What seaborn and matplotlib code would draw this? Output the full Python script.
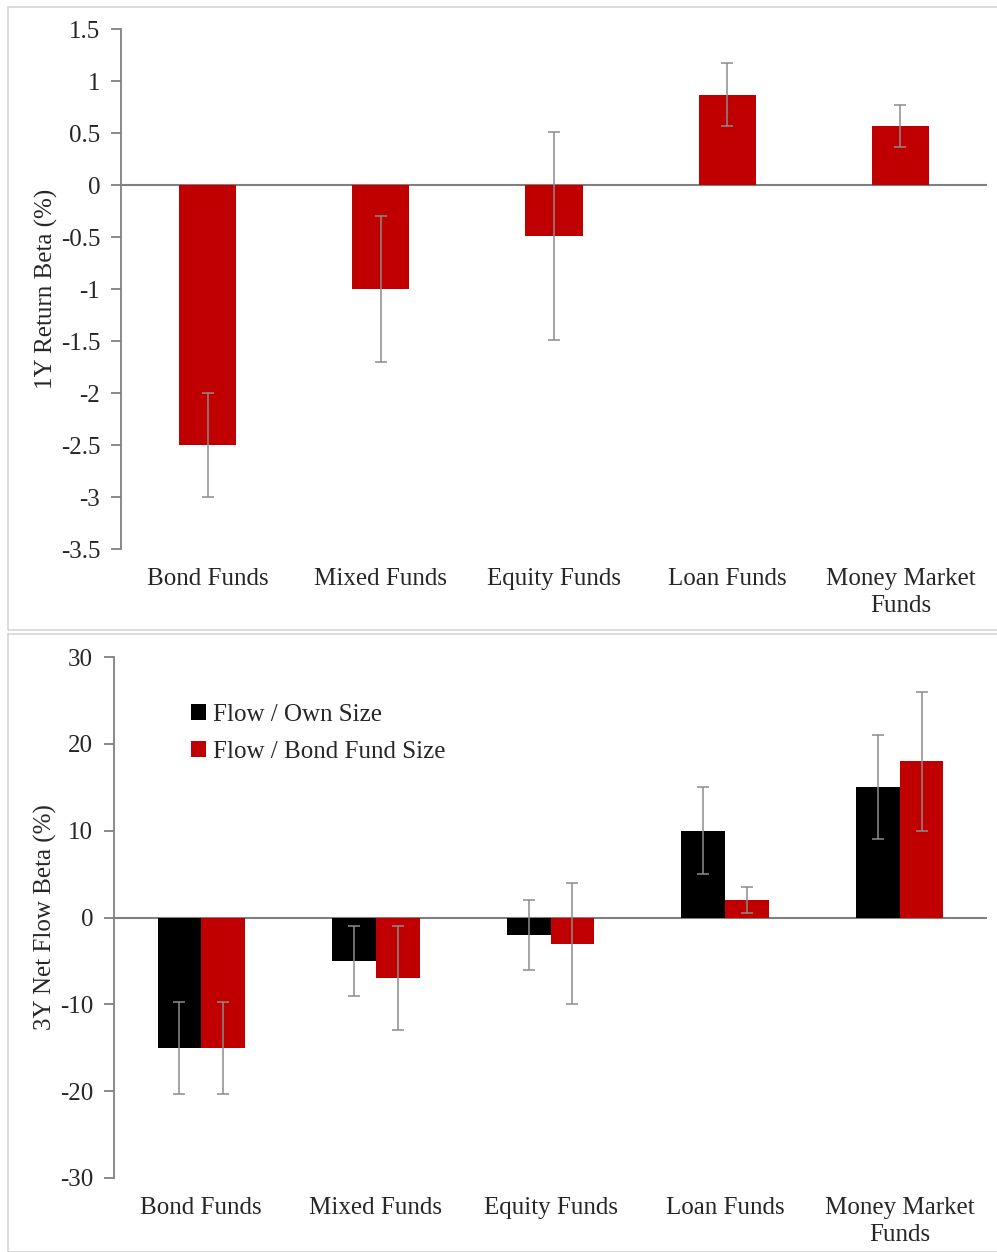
import matplotlib
matplotlib.use('Agg')
import matplotlib.pyplot as plt
from matplotlib.patches import Rectangle
from matplotlib.ticker import FuncFormatter, MultipleLocator
import seaborn as sns
import pandas as pd

# Data
categories = ['Bond Funds', 'Mixed Funds', 'Equity Funds', 'Loan Funds', 'Money Market\nFunds']

return_beta = [-2.5, -1.0, -0.49, 0.87, 0.57]
return_err = [0.5, 0.7, 1.0, 0.3, 0.2]

flow_series = ['Flow / Own Size', 'Flow / Bond Fund Size']
flow_own = [-15, -5, -2, 10, 15]
flow_own_err = [5.3, 4, 4, 5, 6]
flow_bond = [-15, -7, -3, 2, 18]
flow_bond_err = [5.3, 6, 7, 1.5, 8]

RED = '#C00000'
GREY = '#808080'
ERR = '#8c8c8c'

sns.set_style('white')
plt.rcParams['font.family'] = ['Liberation Serif', 'DejaVu Serif']
plt.rcParams['axes.unicode_minus'] = False

fig = plt.figure(figsize=(9.97, 12.52), dpi=100)

# light frames round each panel
fig.patches.append(Rectangle((8 / 997, 1 - 630 / 1252), 1.0, 623 / 1252,
                             transform=fig.transFigure, fill=False,
                             edgecolor='#d4d4d4', linewidth=1.2))
fig.patches.append(Rectangle((8 / 997, 0), 1.0, 1 - 634 / 1252,
                             transform=fig.transFigure, fill=False,
                             edgecolor='#d4d4d4', linewidth=1.2))


def style_axis(ax, ylim, step, ylabel):
    ax.set_ylim(*ylim)
    ax.yaxis.set_major_locator(MultipleLocator(step))
    ax.yaxis.set_major_formatter(FuncFormatter(lambda v, p: f'{v:g}'))
    for s in ['top', 'right', 'bottom']:
        ax.spines[s].set_visible(False)
    ax.spines['left'].set_color(GREY)
    ax.spines['left'].set_linewidth(1.3)
    ax.axhline(0, color=GREY, linewidth=1.5, zorder=1)
    ax.tick_params(axis='y', left=True, length=7, width=1.3, color=GREY,
                   labelsize=18, pad=8)
    ax.set_xticks(range(len(categories)))
    ax.set_xticklabels(categories, linespacing=1.25)
    ax.tick_params(axis='x', bottom=False, top=False, length=0,
                   labelsize=18, pad=14)
    ax.set_xlabel('')
    ax.set_ylabel(ylabel, fontsize=18, labelpad=2)
    ax.set_xlim(-0.5, len(categories) - 0.5)


# Top panel: 1Y return beta
ax1 = fig.add_axes([121 / 997, 1 - 549 / 1252, (987 - 121) / 997, 520 / 1252])
df1 = pd.DataFrame({'category': categories, 'beta': return_beta})
sns.barplot(data=df1, x='category', y='beta', color=RED, saturation=1,
            width=0.33, errorbar=None, linewidth=0, ax=ax1, zorder=2)
centers1 = [p.get_x() + p.get_width() / 2 for p in ax1.patches]
ax1.errorbar(centers1, return_beta, yerr=return_err, fmt='none',
             ecolor=ERR, elinewidth=1.1, capsize=4, capthick=1.1, zorder=3)
style_axis(ax1, (-3.5, 1.5), 0.5, '1Y Return Beta (%)')

# Bottom panel: 3Y net flow beta
ax2 = fig.add_axes([114 / 997, 1 - 1178 / 1252, (987 - 114) / 997, 521 / 1252])
df2 = pd.DataFrame({
    'category': categories * 2,
    'series': [flow_series[0]] * len(categories) + [flow_series[1]] * len(categories),
    'beta': flow_own + flow_bond,
})
sns.barplot(data=df2, x='category', y='beta', hue='series',
            palette=['#000000', RED], saturation=1, width=0.5,
            errorbar=None, linewidth=0, ax=ax2, zorder=2)
bars = [p for p in ax2.patches if p.get_width() > 0 and p.get_height() != 0]
bars = sorted(bars, key=lambda p: p.get_x())
centers2 = [p.get_x() + p.get_width() / 2 for p in bars]
vals2 = []
errs2 = []
for i in range(len(categories)):
    vals2 += [flow_own[i], flow_bond[i]]
    errs2 += [flow_own_err[i], flow_bond_err[i]]
ax2.errorbar(centers2, vals2, yerr=errs2, fmt='none', ecolor=ERR,
             elinewidth=1.1, capsize=4, capthick=1.1, zorder=3)
style_axis(ax2, (-30, 30), 10, '3Y Net Flow Beta (%)')

leg = ax2.legend(loc='upper left', bbox_to_anchor=(0.062, 0.953), frameon=False,
                 fontsize=18, handlelength=0.6, handleheight=0.6,
                 handletextpad=0.3, labelspacing=0.6)

fig.savefig('out.png', dpi=100)
